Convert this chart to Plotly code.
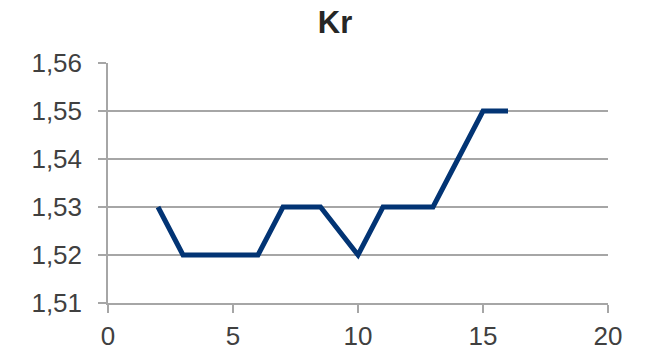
import plotly.graph_objects as go

# Kr values along the x axis
x_vals = [2, 3, 4, 5, 6, 7, 8.5, 10, 11, 12, 13, 14, 15, 16]
kr_vals = [1.53, 1.52, 1.52, 1.52, 1.52, 1.53, 1.53, 1.52, 1.53, 1.53, 1.53, 1.54, 1.55, 1.55]

x_ticks = [0, 5, 10, 15, 20]
y_ticks = [1.51, 1.52, 1.53, 1.54, 1.55, 1.56]

grid_color = "#a6a6a6"
text_color = "#404040"
font_family = "Liberation Sans, Arial, sans-serif"

fig = go.Figure()
fig.add_trace(go.Scatter(
    x=x_vals, y=kr_vals, mode="lines",
    line=dict(color="#023474", width=5),
    showlegend=False, hoverinfo="skip",
))

fig.update_layout(
    width=653, height=345,
    margin=dict(l=108, r=45, t=63, b=42, autoexpand=False),
    paper_bgcolor="white", plot_bgcolor="white",
    separators=", ",
    font=dict(family=font_family, color=text_color, size=26),
    title=dict(
        text="<b>Kr</b>", x=0.513, xanchor="center",
        y=1 - 22 / 345, yanchor="middle", yref="container",
        font=dict(size=31, color="#262626", family=font_family),
        automargin=False,
    ),
)

fig.update_xaxes(
    range=[0, 20], tickvals=x_ticks, ticktext=[str(v) for v in x_ticks],
    showgrid=False, zeroline=False, automargin=False,
    showline=True, linecolor=grid_color, linewidth=1.5,
    ticks="outside", ticklen=8, tickcolor=grid_color, tickwidth=1.5,
    ticklabelstandoff=1,
    tickfont=dict(size=26, color=text_color),
)
fig.update_yaxes(
    range=[1.51, 1.56], tickvals=y_ticks, tickformat=".2f",
    showgrid=True, gridcolor=grid_color, gridwidth=1.5, zeroline=False,
    automargin=False,
    showline=True, linecolor=grid_color, linewidth=1.5,
    ticks="outside", ticklen=8, tickcolor=grid_color, tickwidth=1.5,
    ticklabelstandoff=11,
    tickfont=dict(size=26, color=text_color),
)

fig.write_html("out.html")
